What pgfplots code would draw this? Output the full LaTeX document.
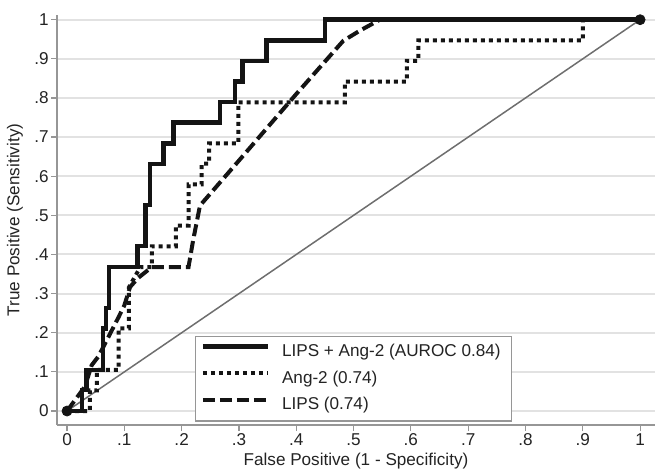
\documentclass[border=0pt]{standalone}
\usepackage{fontspec}
\setmainfont{Liberation Sans}
\usepackage{pgfplots}
\pgfplotsset{compat=1.18}
\definecolor{txt}{RGB}{35,35,35}
\definecolor{axgray}{RGB}{150,150,150}
\definecolor{gridgray}{RGB}{226,226,226}
\definecolor{diag}{RGB}{110,110,110}
\definecolor{curve}{RGB}{20,20,20}
\newcommand{\fs}{\fontsize{8.6}{10.3}\selectfont}
\begin{document}
\begin{tikzpicture}
\begin{axis}[
  scale only axis, width=299bp, height=205bp,
  xmin=-0.0175, xmax=1.026, ymin=-0.0357, ymax=1.012,
  clip=false,
  axis lines*=left,
  axis line style={axgray, line width=0.6bp},
  tick align=outside, major tick length=3bp,
  tick style={axgray, line width=0.6bp},
  xtick={0,0.1,0.2,0.3,0.4,0.5,0.6,0.7,0.8,0.9,1},
  xticklabels={0,.1,.2,.3,.4,.5,.6,.7,.8,.9,1},
  ytick={0,0.1,0.2,0.3,0.4,0.5,0.6,0.7,0.8,0.9,1},
  yticklabels={0,.1,.2,.3,.4,.5,.6,.7,.8,.9,1},
  ymajorgrids, grid style={gridgray, line width=1bp},
  tick label style={font=\fs, text=txt},
  xticklabel style={inner sep=1bp},
  yticklabel style={inner sep=1bp},
  xlabel={False Positive (1 - Specificity)},
  ylabel={True Positive (Sensitivity)},
  every axis x label/.style={at={(axis description cs:0.5,0)}, anchor=center, yshift=-18bp, inner sep=0pt, font=\fs, text=txt},
  every axis y label/.style={at={(axis description cs:0,0.5)}, xshift=-21bp, anchor=center, rotate=90, inner sep=0pt, font=\fs, text=txt},
  legend style={at={(axis cs:0.2234,0.191)}, anchor=north west, draw=axgray, line width=0.6bp, fill=white,
    inner xsep=2.5bp, inner ysep=1.5bp, row sep=0.8bp, column sep=3bp, font=\fs,
    nodes={inner xsep=3bp, inner ysep=2.25bp, text height=6.2bp, text depth=1.8bp, text=txt}},
  legend cell align=left,
  legend image code/.code={\draw[#1] (0bp,3bp) -- (32.5bp,3bp);},
]
\addplot[diag, line width=0.75bp, forget plot] coordinates {(0,0) (1,1)};

\addplot[curve, line width=2.2bp] coordinates {
(0,0) (0.026,0) (0.026,0.053) (0.034,0.053) (0.034,0.105) (0.063,0.105) (0.063,0.211) (0.068,0.211) (0.068,0.263) (0.073,0.263) (0.073,0.368) (0.123,0.368) (0.123,0.421) (0.137,0.421) (0.137,0.526) (0.145,0.526) (0.145,0.632) (0.168,0.632) (0.168,0.684) (0.186,0.684) (0.186,0.737) (0.267,0.737) (0.267,0.789) (0.293,0.789) (0.293,0.842) (0.306,0.842) (0.306,0.895) (0.348,0.895) (0.348,0.947) (0.45,0.947) (0.45,1) (1,1)};
\addlegendentry{LIPS + Ang-2 (AUROC 0.84)}

\addplot[curve, line width=2bp, dash pattern=on 2bp off 2bp] coordinates {
(0,0) (0.04,0) (0.04,0.053) (0.052,0.053) (0.052,0.105) (0.09,0.105) (0.09,0.211) (0.108,0.211) (0.108,0.316) (0.128,0.368) (0.148,0.368) (0.148,0.421) (0.19,0.421) (0.19,0.474) (0.212,0.474) (0.212,0.579) (0.235,0.579) (0.235,0.632) (0.248,0.632) (0.248,0.684) (0.299,0.684) (0.299,0.789) (0.485,0.789) (0.485,0.842) (0.593,0.842) (0.593,0.895) (0.613,0.895) (0.613,0.947) (0.9,0.947) (0.9,1) (1,1)};
\addlegendentry{Ang-2 (0.74)}

\addplot[curve, line width=2bp, dash pattern=on 6bp off 2.5bp] coordinates {
(0,0) (0.015,0.03) (0.031,0.062) (0.043,0.117) (0.055,0.14) (0.069,0.18) (0.09,0.24) (0.1,0.27) (0.11,0.317) (0.124,0.34) (0.148,0.368) (0.212,0.368) (0.22,0.436) (0.232,0.525) (0.30,0.64) (0.40,0.81) (0.482,0.946) (0.511,0.972) (0.546,1) (1,1)};
\addlegendentry{LIPS (0.74)}

\addplot[only marks, mark=*, mark size=2.5bp, curve, forget plot] coordinates {(0,0) (1,1)};
\end{axis}
\path ([yshift=7.5bp]current axis.north);
\path ([xshift=4.5bp]current axis.east);
\path ([xshift=-28.5bp]current axis.west);
\path ([yshift=-25bp]current axis.south);
\end{tikzpicture}
\end{document}
